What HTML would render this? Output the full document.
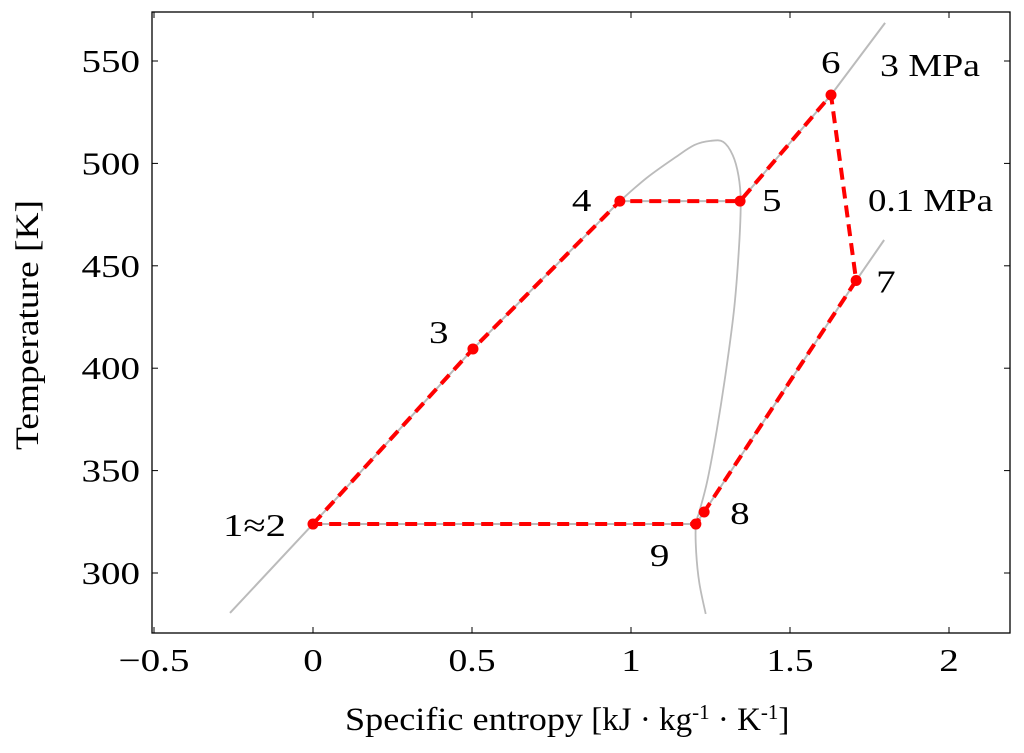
<!DOCTYPE html>
<html><head><meta charset="utf-8"><style>
body{margin:0;background:#fff}
svg text{font-family:"Liberation Serif",serif;fill:#000}
</style></head><body>
<svg id="c" width="1024" height="748" xmlns="http://www.w3.org/2000/svg"></svg>
<script>
const xTicks=[-0.5,0,0.5,1,1.5,2];
const xTickLabels=["\u22120.5","0","0.5","1","1.5","2"];
const yTicks=[300,350,400,450,500,550];
const pointLabels=["1\u22482","3","4","5","6","7","8","9"];
const pointS=[0,0.503,0.965,1.343,1.629,1.708,1.23,1.204];
const pointT=[323.9,409.4,481.6,481.6,533.4,442.8,329.8,323.9];
const cycleOrder=[0,1,2,3,4,5,6,7,0];
const hpS=[-0.261,0,0.503,0.965,1.343,1.629,1.799];
const hpT=[280.5,323.9,409.4,481.6,481.6,533.4,568.6];
const lpS=[0,1.204,1.23,1.708,1.796];
const lpT=[323.9,323.9,329.8,442.8,462.6];
const domeS=[0.965,1.05,1.14,1.2,1.25,1.29,1.32,1.338,1.345,1.34,1.325,1.3,1.27,1.24,1.215,1.204,1.205,1.215,1.235];
const domeT=[481.6,493,503,509,511,510.5,504,494,481.6,460,430,400,370,345,330,323.9,310,295,280];
const X=s=>313+(s-0)*318, Y=t=>573-(t-300)*2.048;
const svg=document.getElementById('c'),NS="http://www.w3.org/2000/svg";
function el(t,a,p){const e=document.createElementNS(NS,t);for(const k in a)e.setAttribute(k,a[k]);(p||svg).appendChild(e);return e;}
function tl(str){let w=0;for(const ch of str){w+= /[0-9]/.test(ch)?19.5:ch=='.'?8:ch=='\u2212'?24:ch=='\u2248'?24:ch==' '?8:22;}return w;}
const frame=el('rect',{x:152,y:12,width:858,height:621,fill:'none',stroke:'#000','stroke-width':1.3});


xTicks.forEach((v,i)=>{const x=X(v);
 el('line',{x1:x,x2:x,y1:633,y2:627,stroke:'#000'});el('line',{x1:x,x2:x,y1:12,y2:18,stroke:'#000'});
 const t=el('text',{x:x,y:671,'text-anchor':'middle','font-size':32,textLength:tl(xTickLabels[i]),lengthAdjust:'spacingAndGlyphs'});t.textContent=xTickLabels[i];
 
 });
yTicks.forEach(v=>{const y=Y(v);
 el('line',{x1:152,x2:158,y1:y,y2:y,stroke:'#000'});el('line',{x1:1010,x2:1004,y1:y,y2:y,stroke:'#000'});
 const t=el('text',{x:140,y:y+11,'text-anchor':'end','font-size':32,textLength:tl(String(v)),lengthAdjust:'spacingAndGlyphs'});t.textContent=v;
 
 });
function poly(S,T,attrs,name){const p=el('polyline',Object.assign({points:S.map((s,i)=>X(s)+','+Y(T[i])).join(' '),fill:'none'},attrs));
 
 return p;}
function smooth(S,T,attrs,name){const P=S.map((s,i)=>[X(s),Y(T[i])]);let d='M'+P[0];
 for(let i=0;i<P.length-1;i++){const p0=P[i-1]||P[i],p1=P[i],p2=P[i+1],p3=P[i+2]||p2;
  d+=' C'+(p1[0]+(p2[0]-p0[0])/6)+','+(p1[1]+(p2[1]-p0[1])/6)+' '+(p2[0]-(p3[0]-p1[0])/6)+','+(p2[1]-(p3[1]-p1[1])/6)+' '+p2;}
 const p=el('path',Object.assign({d:d,fill:'none'},attrs));
 
 return p;}
smooth(domeS,domeT,{stroke:'#bbb','stroke-width':1.8},'saturation-dome');
poly(hpS,hpT,{stroke:'#bbb','stroke-width':2},'isobar-3mpa');
poly(lpS,lpT,{stroke:'#bbb','stroke-width':2},'isobar-0.1mpa');
poly(cycleOrder.map(i=>pointS[i]),cycleOrder.map(i=>pointT[i]),{stroke:'#f00','stroke-width':4,'stroke-dasharray':'12,7'},'cycle-path');
const off=[[-90,12],[-44,-6],[-48,10],[22,10],[-10,-22],[20,12],[26,12],[-46,42]];
pointS.forEach((s,i)=>{const c=el('circle',{cx:X(s),cy:Y(pointT[i]),r:5.5,fill:'#f00'});
 
 
 const t=el('text',{x:X(s)+off[i][0],y:Y(pointT[i])+off[i][1],'font-size':32,textLength:tl(pointLabels[i]),lengthAdjust:'spacingAndGlyphs'});t.textContent=pointLabels[i];
 
 });
const a=el('text',{x:880,y:76,'font-size':32,textLength:100,lengthAdjust:'spacingAndGlyphs'});a.textContent='3 MPa';


const b=el('text',{x:868,y:211,'font-size':32,textLength:125,lengthAdjust:'spacingAndGlyphs'});b.textContent='0.1 MPa';


const xt=el('text',{x:345,y:730,'font-size':33});
xt.innerHTML='<tspan textLength="238" lengthAdjust="spacingAndGlyphs">Specific entropy</tspan><tspan> [kJ \u00b7 kg</tspan><tspan dy="-11" font-size="21">-1</tspan><tspan dy="11"> \u00b7 K</tspan><tspan dy="-11" font-size="21">-1</tspan><tspan dy="11">]</tspan>';


const yt=el('text',{x:0,y:0,'text-anchor':'middle','font-size':33,textLength:250,lengthAdjust:'spacingAndGlyphs',transform:'translate(38,325) rotate(-90)'});yt.textContent='Temperature [K]';


</script>
</body></html>
